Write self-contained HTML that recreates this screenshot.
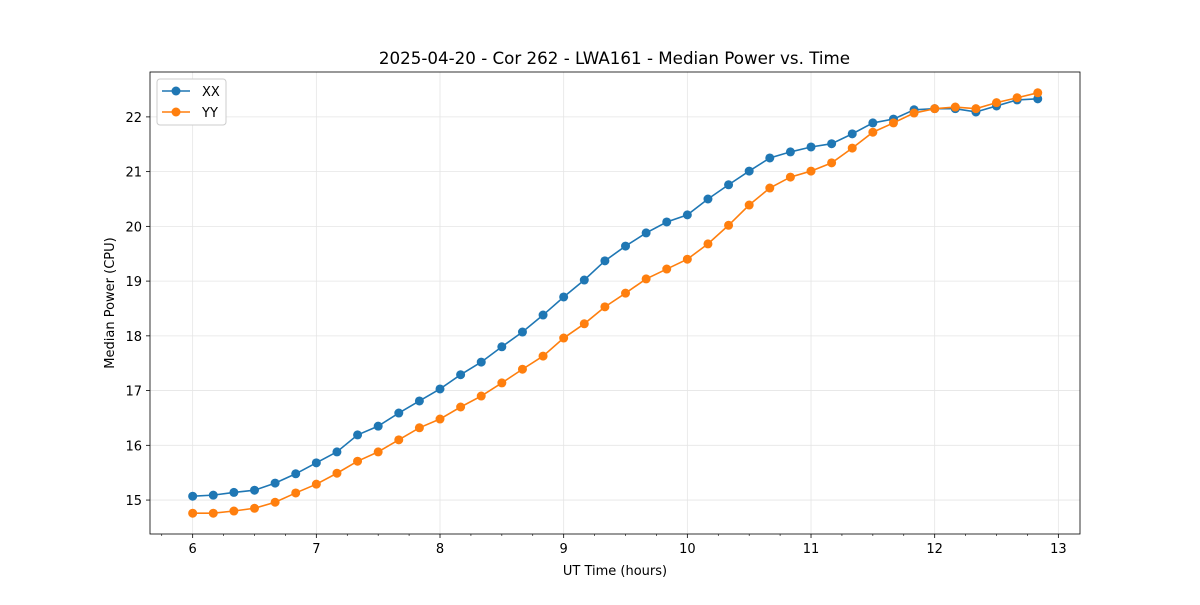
<!DOCTYPE html>
<html><head><meta charset="utf-8"><style>
body{margin:0;background:#fff;font-family:"Liberation Sans","DejaVu Sans",sans-serif;}
svg text{font-family:"DejaVu Sans","Liberation Sans",sans-serif;}
</style></head><body>
<svg id="chart" width="1200" height="600" xmlns="http://www.w3.org/2000/svg"></svg>
<script>
const xTicks=[6,7,8,9,10,11,12,13];
const yTicks=[15,16,17,18,19,20,21,22];
const times=[];for(let i=0;i<42;i++)times.push(6+i/6);
const xxValues=[15.07,15.09,15.14,15.18,15.31,15.48,15.68,15.88,16.19,16.35,16.59,16.81,17.03,17.29,17.52,17.80,18.07,18.38,18.71,19.02,19.37,19.64,19.88,20.08,20.21,20.50,20.76,21.01,21.25,21.36,21.45,21.51,21.69,21.89,21.96,22.13,22.15,22.15,22.09,22.20,22.31,22.33];
const yyValues=[14.76,14.76,14.80,14.85,14.96,15.13,15.29,15.49,15.71,15.88,16.10,16.32,16.48,16.70,16.90,17.14,17.39,17.63,17.96,18.22,18.53,18.78,19.04,19.22,19.40,19.68,20.02,20.39,20.70,20.90,21.01,21.16,21.43,21.72,21.89,22.07,22.15,22.18,22.15,22.26,22.35,22.44];
const L=150,R=1080,T=72,B=534,x0=5.655,x1=13.175,y0=14.38,y1=22.82;
const X=v=>L+(v-x0)/(x1-x0)*(R-L);
const Y=v=>B-(v-y0)/(y1-y0)*(B-T);
const svg=document.getElementById('chart');
const NS='http://www.w3.org/2000/svg';
function mk(tag,attrs,parent){const e=document.createElementNS(NS,tag);for(const k in attrs)e.setAttribute(k,attrs[k]);(parent||svg).appendChild(e);return e;}
xTicks.forEach(t=>{
 const g=mk('line',{x1:X(t),x2:X(t),y1:T,y2:B,stroke:'#e5e5e5','stroke-width':0.8});
 
 mk('line',{x1:X(t),x2:X(t),y1:B,y2:B+4,stroke:'#000','stroke-width':0.8});
 const tx=mk('text',{x:X(t),y:B+19,'font-size':13,'text-anchor':'middle'});tx.textContent=t;
 
});
for(let m=5.75;m<x1;m+=0.25){if(Math.abs(m-Math.round(m))<0.01)continue;mk('line',{x1:X(m),x2:X(m),y1:B,y2:B+2,stroke:'#000','stroke-width':0.6});}
yTicks.forEach(t=>{
 const g=mk('line',{x1:L,x2:R,y1:Y(t),y2:Y(t),stroke:'#e5e5e5','stroke-width':0.8});
 
 mk('line',{x1:L-4,x2:L,y1:Y(t),y2:Y(t),stroke:'#000','stroke-width':0.8});
 const tx=mk('text',{x:L-8,y:Y(t)+5,'font-size':13,'text-anchor':'end'});tx.textContent=t;
 
});
function series(vals,color,name){
 const p=mk('polyline',{points:vals.map((v,i)=>X(times[i])+','+Y(v)).join(' '),fill:'none',stroke:color,'stroke-width':1.6});
 
 vals.forEach((v,i)=>{const c=mk('circle',{cx:X(times[i]),cy:Y(v),r:4.5,fill:color});
  });
}
series(xxValues,'#1f77b4','xx');
series(yyValues,'#ff7f0e','yy');
const fr=mk('rect',{x:L,y:T,width:R-L,height:B-T,fill:'none',stroke:'#000','stroke-width':0.8});

const ti=mk('text',{x:(L+R)/2-0.5,y:64,'font-size':16.7,'text-anchor':'middle'});ti.textContent='2025-04-20 - Cor 262 - LWA161 - Median Power vs. Time';

const xl=mk('text',{x:(L+R)/2,y:575,'font-size':13,'text-anchor':'middle'});xl.textContent='UT Time (hours)';

const yl=mk('text',{x:114,y:(T+B)/2,'font-size':13,'text-anchor':'middle',transform:'rotate(-90 114 '+(T+B)/2+')'});yl.textContent='Median Power (CPU)';

const lg=mk('g',{});
mk('rect',{x:157,y:79,width:69,height:46,rx:3,fill:'#fff',stroke:'#ccc'},lg);
[['XX','#1f77b4',91],['YY','#ff7f0e',112]].forEach(([n,c,y])=>{
 const e=mk('g',{},lg);
 mk('line',{x1:162,x2:190,y1:y,y2:y,stroke:c,'stroke-width':1.6},e);
 mk('circle',{cx:176,cy:y,r:4.5,fill:c},e);
 const t=mk('text',{x:202,y:y+5,'font-size':13},e);t.textContent=n;
});
</script>
</body></html>
